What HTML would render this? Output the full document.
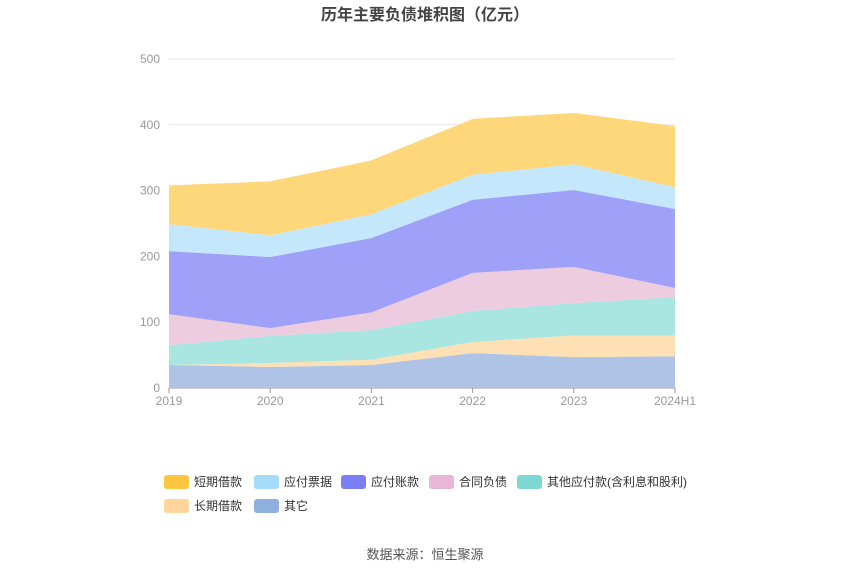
<!DOCTYPE html>
<html><head><meta charset="utf-8">
<style>
body{margin:0;background:#fff;font-family:"Liberation Sans","Noto Sans CJK SC",sans-serif;}
svg text{font-family:"Liberation Sans","Noto Sans CJK SC",sans-serif;}
</style></head>
<body>
<svg id="c" width="850" height="575">
<text x="425" y="20" text-anchor="middle" font-size="16" font-weight="bold" fill="#444">历年主要负债堆积图（亿元）</text>
<g id="grid"></g><g id="areas"></g><g id="axes"></g><g id="legend"></g>
<text x="425" y="559" text-anchor="middle" font-size="13" fill="#555">数据来源：恒生聚源</text>
</svg>
<script>
const categories=["2019","2020","2021","2022","2023","2024H1"];
const seriesNames=["其它","长期借款","其他应付款(含利息和股利)","合同负债","应付账款","应付票据","短期借款"];
const other=[35,32,35,53,47,48];
const longLoan=[0,6,8,17,33,32];
const otherPay=[30,41,45,47,49,58];
const contract=[47,12,27,58,55,14];
const accountsPay=[96,108,113,111,117,120];
const notesPay=[41,33,36,38,39,33];
const shortLoan=[59,82,82,85,78,93];
const yTicks=[0,100,200,300,400,500];
const series=[other,longLoan,otherPay,contract,accountsPay,notesPay,shortLoan];
const colors=["#8fb0de","#fed69b","#7dd8d3","#e9b6d6","#7b7ff5","#a6dcfb","#fdc540"];
const fills=["#aec3e6","#fde0b4","#a9e5e1","#eeccdf","#9ea1f7","#c4e7fb","#fed77a"];
const X=i=>169+i*(675-169)/(categories.length-1);
const Y=v=>388-v*(388-59)/500;
const NS="http://www.w3.org/2000/svg";
function mk(t,a,p){const e=document.createElementNS(NS,t);for(const k in a)e.setAttribute(k,a[k]);p.appendChild(e);return e;}
const grid=document.getElementById('grid'),axes=document.getElementById('axes'),areas=document.getElementById('areas'),leg=document.getElementById('legend');
yTicks.forEach(v=>{
 const l=mk('line',{x1:169,x2:675,y1:Y(v),y2:Y(v),stroke:v===0?'#999':'#e3e6ec'},grid);
 
 
 const t=mk('text',{x:160,y:Y(v)+4,'text-anchor':'end','font-size':12,fill:'#999'},axes);t.textContent=v;
 
 
});
categories.forEach((c,i)=>{
 const tk=mk('line',{x1:X(i),x2:X(i),y1:388,y2:393,stroke:'#999'},axes);
 
 
 const t=mk('text',{x:X(i),y:405,'text-anchor':'middle','font-size':12,fill:'#999'},axes);t.textContent=c;
 
 
});
let base=categories.map(()=>0);
series.forEach((s,k)=>{
 const top=base.map((b,i)=>b+s[i]);
 let d='M'+top.map((v,i)=>X(i)+','+Y(v)).join('L');
 for(let i=categories.length-1;i>=0;i--)d+='L'+X(i)+','+Y(base[i]);
 const p=mk('path',{d:d+'Z',fill:fills[k],stroke:'none'},areas);
 
 
 base=top;
});
const legOrder=[6,5,4,3,2,1,0];
const legX=[164,254,341,429,517,164,254],legY=[482,482,482,482,482,506,506];
legOrder.forEach((k,j)=>{
 const g=mk('g',{},leg);
 
 
 mk('rect',{x:legX[j],y:legY[j]-7,width:25,height:14,rx:3,fill:colors[k]},g);
 const t=mk('text',{x:legX[j]+30,y:legY[j]+4,'font-size':12,fill:'#333'},g);t.textContent=seriesNames[k];
});
</script>
</body></html>
